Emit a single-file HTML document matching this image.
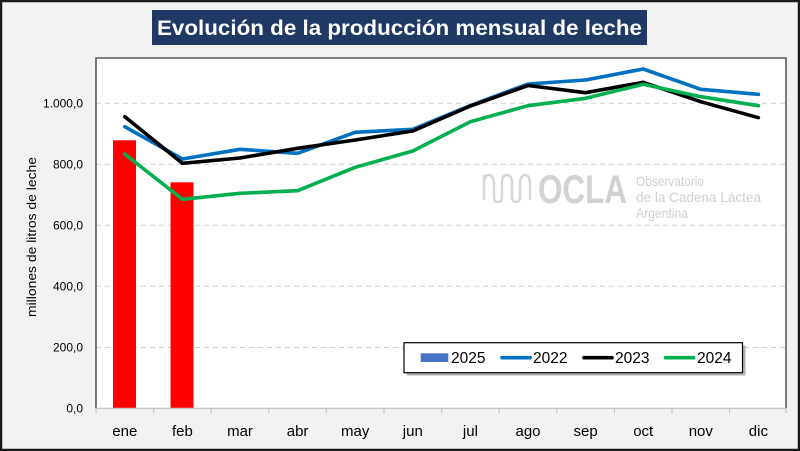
<!DOCTYPE html>
<html><head><meta charset="utf-8"><style>
html,body{margin:0;padding:0;background:#f2f2f2;}
svg{display:block;}
</style></head><body>
<svg width="800" height="451" viewBox="0 0 800 451" xmlns="http://www.w3.org/2000/svg" font-family="Liberation Sans, Arial, sans-serif">
<rect x="0" y="0" width="800" height="451" fill="#f2f2f2"/>
<rect x="1" y="1" width="798" height="449" fill="none" stroke="#1a1a1a" stroke-width="2.5"/>
<!-- title -->
<rect x="152" y="10" width="495" height="35" fill="#1f3864"/>
<text x="157" y="35" font-size="21.5" font-weight="bold" fill="#ffffff" textLength="485" lengthAdjust="spacingAndGlyphs">Evolución de la producción mensual de leche</text>
<!-- plot area -->
<rect x="96" y="58" width="690" height="350" fill="#ffffff"/>
<!-- gridlines -->
<g stroke="#d0d0d0" stroke-width="1" stroke-dasharray="5,4">
<line x1="96" y1="103.3" x2="786" y2="103.3"/>
<line x1="96" y1="164.3" x2="786" y2="164.3"/>
<line x1="96" y1="225.3" x2="786" y2="225.3"/>
<line x1="96" y1="286.3" x2="786" y2="286.3"/>
<line x1="96" y1="347.5" x2="786" y2="347.5"/>
</g>
<!-- watermark -->
<g fill="none" stroke="#d6d6d6" stroke-width="2.5">
<path d="M484,175 V200 M484,185 q0,-10 5,-10 q5,0 5,10 v12 q0,5 4,5 q4,0 4,-5 v-14 q0,-8 5,-8 q5,0 5,8 v14 q0,5 4,5 q4,0 4,-5 v-12 q0,-10 5,-10 q5,0 5,10 V200"/>
</g>
<text x="538" y="203" font-size="40" font-weight="bold" fill="#d2d2d2" textLength="89" lengthAdjust="spacingAndGlyphs">OCLA</text>
<text x="636" y="186" font-size="14" fill="#cfcfcf" textLength="68" lengthAdjust="spacingAndGlyphs">Observatorio</text>
<text x="636" y="202" font-size="14" fill="#cfcfcf" textLength="125" lengthAdjust="spacingAndGlyphs">de la Cadena Láctea</text>
<text x="636" y="218" font-size="14" fill="#cfcfcf" textLength="52" lengthAdjust="spacingAndGlyphs">Argentina</text>
<!-- bars -->
<rect x="113" y="140.3" width="23" height="267.7" fill="#ff0000"/>
<rect x="170.5" y="182.3" width="23" height="225.7" fill="#ff0000"/>
<!-- lines -->
<g fill="none" stroke-width="3.6" stroke-linejoin="round" stroke-linecap="round">
<polyline stroke="#0070c0" points="124.8,126.7 182.4,159 240,149.3 297.6,153.3 355.2,132.3 412.8,129.3 470.4,105.5 528,84 585.6,80 643.2,69 700.8,89.3 758.4,94.3"/>
<polyline stroke="#000000" points="124.8,116.7 182.4,163.3 240,158 297.6,148.3 355.2,140 412.8,131 470.4,106 528,85.5 585.6,92.7 643.2,82.3 700.8,101.7 758.4,117.7"/>
<polyline stroke="#00b050" points="124.8,154 182.4,199.3 240,193.3 297.6,190.7 355.2,167.3 412.8,151 470.4,121.7 528,105.7 585.6,98.3 643.2,84.3 700.8,96.7 758.4,105.7"/>
</g>
<!-- plot borders -->
<path d="M96,408 V58 H786 V408" fill="none" stroke="#595959" stroke-width="1.6"/>
<line x1="96" y1="408.3" x2="786" y2="408.3" stroke="#bfbfbf" stroke-width="1.2"/>
<g stroke="#bfbfbf" stroke-width="1">
<line x1="96" y1="408" x2="96" y2="413"/><line x1="153.6" y1="408" x2="153.6" y2="413"/><line x1="211.2" y1="408" x2="211.2" y2="413"/><line x1="268.8" y1="408" x2="268.8" y2="413"/><line x1="326.4" y1="408" x2="326.4" y2="413"/><line x1="384" y1="408" x2="384" y2="413"/><line x1="441.6" y1="408" x2="441.6" y2="413"/><line x1="499.2" y1="408" x2="499.2" y2="413"/><line x1="556.8" y1="408" x2="556.8" y2="413"/><line x1="614.4" y1="408" x2="614.4" y2="413"/><line x1="672" y1="408" x2="672" y2="413"/><line x1="729.6" y1="408" x2="729.6" y2="413"/><line x1="786" y1="408" x2="786" y2="413"/>
</g>
<!-- y labels -->
<g font-size="12" fill="#000" text-anchor="end">
<text x="83" y="107.5">1.000,0</text>
<text x="83" y="168.5">800,0</text>
<text x="83" y="229.5">600,0</text>
<text x="83" y="290.5">400,0</text>
<text x="83" y="351.5">200,0</text>
<text x="83" y="412.5">0,0</text>
</g>
<text transform="translate(36,237) rotate(-90)" font-size="12.5" text-anchor="middle" fill="#000" textLength="160" lengthAdjust="spacingAndGlyphs">millones de litros de leche</text>
<!-- x labels -->
<g font-size="15" fill="#000" text-anchor="middle">
<text x="124.8" y="436">ene</text><text x="182.4" y="436">feb</text><text x="240" y="436">mar</text><text x="297.6" y="436">abr</text><text x="355.2" y="436">may</text><text x="412.8" y="436">jun</text><text x="470.4" y="436">jul</text><text x="528" y="436">ago</text><text x="585.6" y="436">sep</text><text x="643.2" y="436">oct</text><text x="700.8" y="436">nov</text><text x="758.4" y="436">dic</text>
</g>
<!-- legend -->
<rect x="407" y="345.5" width="338.5" height="30" fill="#7f7f7f" opacity="0.6"/>
<rect x="404" y="342.7" width="338.5" height="30" fill="#ffffff" stroke="#000" stroke-width="1.2"/>
<rect x="420.7" y="353.3" width="27.6" height="8.7" fill="#4472c4"/>
<g font-size="15.5" fill="#000">
<text x="451" y="363">2025</text>
<text x="533" y="363">2022</text>
<text x="615" y="363">2023</text>
<text x="697" y="363">2024</text>
</g>
<g stroke-width="3.6" stroke-linecap="round">
<line x1="502" y1="357.7" x2="530" y2="357.7" stroke="#0070c0"/>
<line x1="584" y1="357.7" x2="612" y2="357.7" stroke="#000"/>
<line x1="665.5" y1="357.7" x2="693.5" y2="357.7" stroke="#00b050"/>
</g>
</svg>
</body></html>
